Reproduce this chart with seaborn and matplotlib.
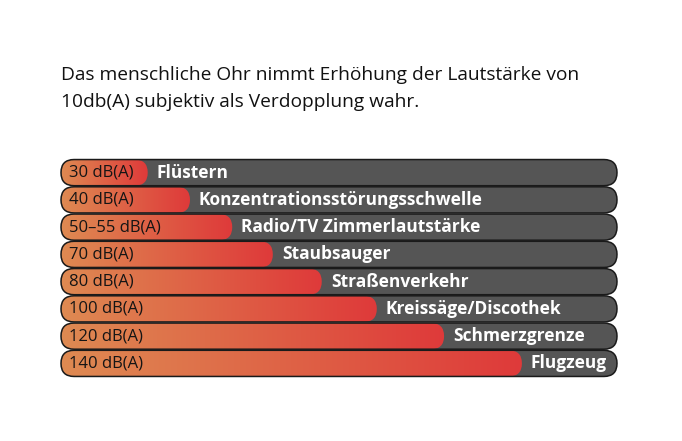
import numpy as np
import pandas as pd
import matplotlib.pyplot as plt
import seaborn as sns
from matplotlib.patches import FancyBboxPatch
from matplotlib.colors import LinearSegmentedColormap

sns.set_theme(style="white")
plt.rcParams['font.family'] = ['Open Sans', 'DejaVu Sans']

# data
levels = ['30 dB(A)', '40 dB(A)', '50–55 dB(A)', '70 dB(A)', '80 dB(A)',
          '100 dB(A)', '120 dB(A)', '140 dB(A)']
sources = ['Flüstern', 'Konzentrationsstörungsschwelle', 'Radio/TV Zimmerlautstärke',
           'Staubsauger', 'Straßenverkehr', 'Kreissäge/Discothek', 'Schmerzgrenze', 'Flugzeug']
fill = [15.6, 23.2, 30.8, 38.1, 46.9, 56.8, 68.9, 82.9]
scale_max = 100

title_lines = ["Das menschliche Ohr nimmt Erhöhung der Lautstärke von",
               "10db(A) subjektiv als Verdopplung wahr."]

df = pd.DataFrame({'source': sources, 'level': levels, 'fill': fill})

fig = plt.figure(figsize=(6.82, 4.41), dpi=100)
ax = fig.add_axes([61 / 682, 1 - 377 / 441, 556 / 682, 218 / 441])
sns.barplot(data=df, x='fill', y='source', orient='h', width=0.96, ax=ax)
ax.set_xlim(0, scale_max)
ax.set_ylim(len(sources) - 0.5, -0.5)
ax.axis('off')

# pixel size of one data unit, used to get round caps with the uneven aspect
x_px = ax.bbox.width / scale_max
y_px = ax.bbox.height / len(sources)
m_aspect = x_px / y_px

cmap = LinearSegmentedColormap.from_list('heat', ['#df8a52', '#de3a3a'])
grad = np.linspace(0, 1, 256)[None, :]

rects = list(ax.patches)
for rect, lvl, name in zip(rects, levels, sources):
    x0, y0 = rect.get_x(), rect.get_y()
    w, h = rect.get_width(), rect.get_height()
    rect.remove()
    r = h / 2 / m_aspect
    style = f"round,pad=0,rounding_size={r}"

    bg = FancyBboxPatch((x0, y0), scale_max, h, boxstyle=style, mutation_aspect=m_aspect,
                        fc='#555555', ec='none', zorder=1, clip_on=False)
    ax.add_patch(bg)

    clip = FancyBboxPatch((x0, y0), w, h, boxstyle=style, mutation_aspect=m_aspect,
                          fc='none', ec='none', zorder=2, clip_on=False)
    ax.add_patch(clip)
    im = ax.imshow(grad, cmap=cmap, extent=[x0, x0 + w, y0 + h, y0], aspect='auto',
                   interpolation='bilinear', zorder=2)
    im.set_clip_path(clip)

    edge = FancyBboxPatch((x0, y0), scale_max, h, boxstyle=style, mutation_aspect=m_aspect,
                          fc='none', ec='#1a1a1a', lw=1.1, zorder=4, clip_on=False)
    ax.add_patch(edge)

    yc = y0 + h / 2
    ax.text(x0 + 8 / x_px, yc, lvl, va='center', ha='left', fontsize=12,
            color='#151515', zorder=5)
    ax.text(x0 + w + 9 / x_px, yc, name, va='center', ha='left', fontsize=12.5,
            fontweight='bold', color='white', zorder=5)

ax.set_xlim(0, scale_max)
ax.set_ylim(len(sources) - 0.5, -0.5)

for line, ypix in zip(title_lines, [75, 102]):
    fig.text(61 / 682, 1 - ypix / 441, line, ha='left', va='center', fontsize=13.8,
             color='#111111')

fig.savefig('out.png', dpi=100)
